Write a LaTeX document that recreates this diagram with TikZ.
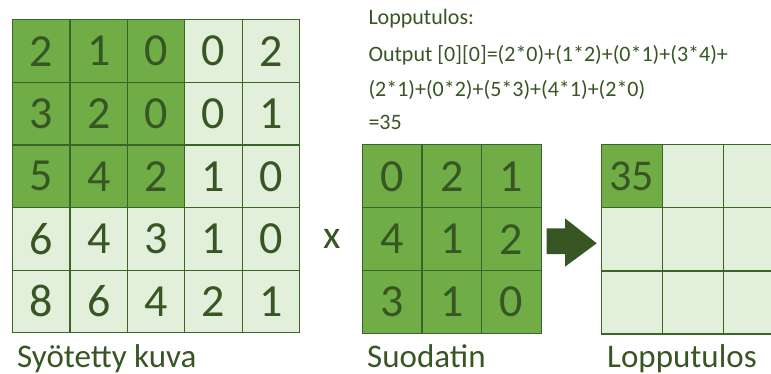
\documentclass[tikz,border=0pt]{standalone}
\usepackage{fontspec}
\setmainfont{Carlito}
\definecolor{gdark}{HTML}{70AD47}
\definecolor{glight}{HTML}{E2EFDA}
\definecolor{gline}{HTML}{3B6427}
\definecolor{gtext}{HTML}{375623}
\tikzset{
  cell/.style={draw=gline, line width=1.2pt, inner sep=0pt, text=gtext,
    font=\fontsize{46}{46}\selectfont, anchor=north west},
  hot/.style={cell, fill=gdark},
  cold/.style={cell, fill=glight},
  note/.style={anchor=base west, inner sep=0pt, text=gtext, font=\fontsize{22}{22}\selectfont},
  caption/.style={anchor=base west, inner sep=0pt, text=gtext, font=\fontsize{33}{33}\selectfont},
}
\begin{document}
\begin{tikzpicture}[x=1pt, y=-1pt]
\useasboundingbox (0,0) rectangle (771,374);
\clip (0,0) rectangle (771,374);

% input image, 5x5
\def\iw{57.4}\def\ih{62.55}
\foreach \row/\vals in {0/{2,1,0,0,2},1/{3,2,0,0,1},2/{5,4,2,1,0},3/{6,4,3,1,0},4/{8,6,4,2,1}}{
  \foreach \v [count=\c from 0] in \vals {
    \pgfmathsetmacro{\isHot}{(\row<3 && \c<3) ? 1 : 0}
    \ifnum\isHot=1
      \node[hot, minimum width=\iw pt, minimum height=\ih pt] (in-\row-\c) at ({12+\c*\iw},{19.3+\row*\ih}) {\raisebox{-2pt}{\v}};
    \else
      \node[cold, minimum width=\iw pt, minimum height=\ih pt] (in-\row-\c) at ({12+\c*\iw},{19.3+\row*\ih}) {\raisebox{-2pt}{\v}};
    \fi
  }
}

% filter, 3x3
\def\fw{59.67}\def\fh{62.8}
\foreach \row/\vals in {0/{0,2,1},1/{4,1,2},2/{3,1,0}}{
  \foreach \v [count=\c from 0] in \vals {
    \node[hot, minimum width=\fw pt, minimum height=\fh pt] (flt-\row-\c) at ({361.7+\c*\fw},{144.3+\row*\fh}) {\raisebox{-2pt}{\v}};
  }
}

% result, 3x3
\def\ow{61}\def\oh{63}
\foreach \row in {0,1,2}{
  \foreach \c in {0,1,2}{
    \node[cold, minimum width=\ow pt, minimum height=\oh pt] (out-\row-\c) at ({600.7+\c*\ow},{144.3+\row*\oh}) {};
  }
}
\node[hot, minimum width=\ow pt, minimum height=\oh pt, font=\fontsize{44}{44}\selectfont] (res) at (600.7,144.3) {35};

% multiplication sign
\node[text=gtext, font=\fontsize{40}{40}\selectfont, inner sep=0pt] (times) at (331.7,239) {x};

% block arrow
\fill[gtext] (546.7,228.3) -- (565,228.3) -- (565,218.3) -- (596.7,243.3)
  -- (565,266.7) -- (565,254) -- (546.7,254) -- cycle;

% worked computation
\node[note] (l1) at (368.3,25) {Lopputulos:};
\node[note] (l2) at (368.3,61.7) {Output [0][0]=(2*0)+(1*2)+(0*1)+(3*4)+};
\node[note] (l3) at (368.3,96.7) {(2*1)+(0*2)+(5*3)+(4*1)+(2*0)};
\node[note] (l4) at (368.3,130) {=35};

% captions
\node[caption] (cap-in) at (17,367) {Syötetty kuva};
\node[caption] (cap-flt) at (367,367) {Suodatin};
\node[caption] (cap-out) at (607,367) {Lopputulos};
\end{tikzpicture}
\end{document}
